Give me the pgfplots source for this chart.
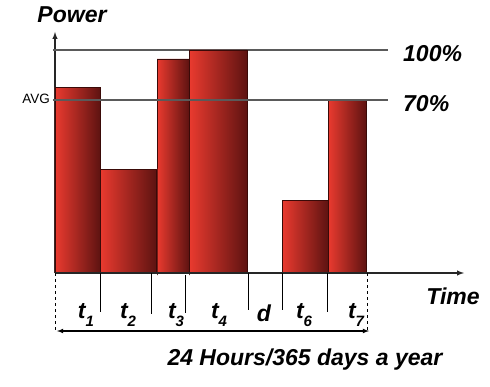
\documentclass[border=0pt]{standalone}
\usepackage{pgfplots}
\pgfplotsset{compat=1.18}
\usepackage{fontspec}
\setmainfont{Liberation Sans}
\definecolor{barL}{HTML}{EA3A2F}
\definecolor{barM}{HTML}{D42B22}
\definecolor{barR}{HTML}{5E1311}
\definecolor{barE}{HTML}{3A0A08}
\definecolor{refl}{HTML}{5A5A5A}
\newcommand{\bigfont}{\fontsize{23}{27}\selectfont\bfseries\itshape}
\newcommand{\tl}[1]{t\raisebox{-0.35em}{\fontsize{15}{15}\selectfont #1}}
\begin{document}
\begin{tikzpicture}[x=1pt,y=1pt]
\begin{axis}[
  scale only axis, width=409pt, height=241pt,
  xmin=55, xmax=464, ymin=0, ymax=241,
  axis lines=left, axis line style={-latex, line width=1.4pt, draw=black!85},
  xtick=\empty, ytick=\empty, clip=false,
]
% bounding box of the whole picture
\path (axis cs:0,273) rectangle (axis cs:490,-113);
% reference lines
\addplot[refl, line width=1.2pt] coordinates {(53,223) (388,223)};
\addplot[refl, line width=1.2pt] coordinates {(53,173) (388,173)};
% bars
\pgfplotsset{bar/.style={draw=barE, line width=0.6pt, left color=barL, middle color=barM, right color=barR}}
\addplot[bar] coordinates {(55,0) (55,186) (100,186) (100,0)} \closedcycle;
\addplot[bar] coordinates {(100,0) (100,104) (156,104) (156,0)} \closedcycle;
\addplot[bar] coordinates {(157,-2) (157,214) (189,214) (189,-2)} \closedcycle;
\addplot[bar] coordinates {(189,0) (189,223) (247,223) (247,0)} \closedcycle;
\addplot[bar] coordinates {(282,0) (282,73) (328,73) (328,0)} \closedcycle;
\addplot[bar] coordinates {(328,0) (328,173) (366,173) (366,0)} \closedcycle;
% redraw reference lines over bars
\addplot[refl, line width=1.2pt] coordinates {(53,173) (388,173)};
% axis line again on top
\addplot[black!85, line width=1.4pt] coordinates {(55,0) (460,0)};
% tick separators below axis
\addplot[black, line width=0.7pt] coordinates {(100,0) (100,-39)};
\addplot[black, line width=0.7pt] coordinates {(151,0) (151,-41)};
\addplot[black, line width=0.7pt] coordinates {(185,-2) (185,-40)};
\addplot[black, line width=0.7pt] coordinates {(248,0) (248,-37)};
\addplot[black, line width=0.7pt] coordinates {(282,0) (282,-37)};
\addplot[black, line width=0.7pt] coordinates {(327,0) (327,-39)};
% dashed boundaries
\addplot[black, line width=0.6pt, dashed] coordinates {(55,0) (55,-59)};
\addplot[black, line width=0.6pt, dashed] coordinates {(367,0) (367,-59)};
% double arrow
\addplot[black, line width=1.1pt, latex-latex] coordinates {(57,-58) (369,-58)};
% texts
\node[font=\bigfont] at (axis cs:72,258) {Power};
\node[font=\bigfont, anchor=west, inner sep=0pt] at (axis cs:403,219) {100\%};
\node[font=\bigfont, anchor=west, inner sep=0pt] at (axis cs:403,169) {70\%};
\node[font=\fontsize{13.5}{15}\selectfont, anchor=east, inner sep=0pt] at (axis cs:50,174) {AVG};
\node[font=\bigfont] at (axis cs:453,-23) {Time};
\node[font=\bigfont] at (axis cs:86,-42) {\tl{1}};
\node[font=\bigfont] at (axis cs:128,-42) {\tl{2}};
\node[font=\bigfont] at (axis cs:176,-42) {\tl{3}};
\node[font=\bigfont] at (axis cs:219,-42) {\tl{4}};
\node[font=\bigfont] at (axis cs:264,-40) {d};
\node[font=\bigfont] at (axis cs:304,-42) {\tl{6}};
\node[font=\bigfont] at (axis cs:356,-42) {\tl{7}};
\node[font=\bigfont] at (axis cs:305,-87) {24 Hours/365 days a year};
\end{axis}
\end{tikzpicture}
\end{document}
